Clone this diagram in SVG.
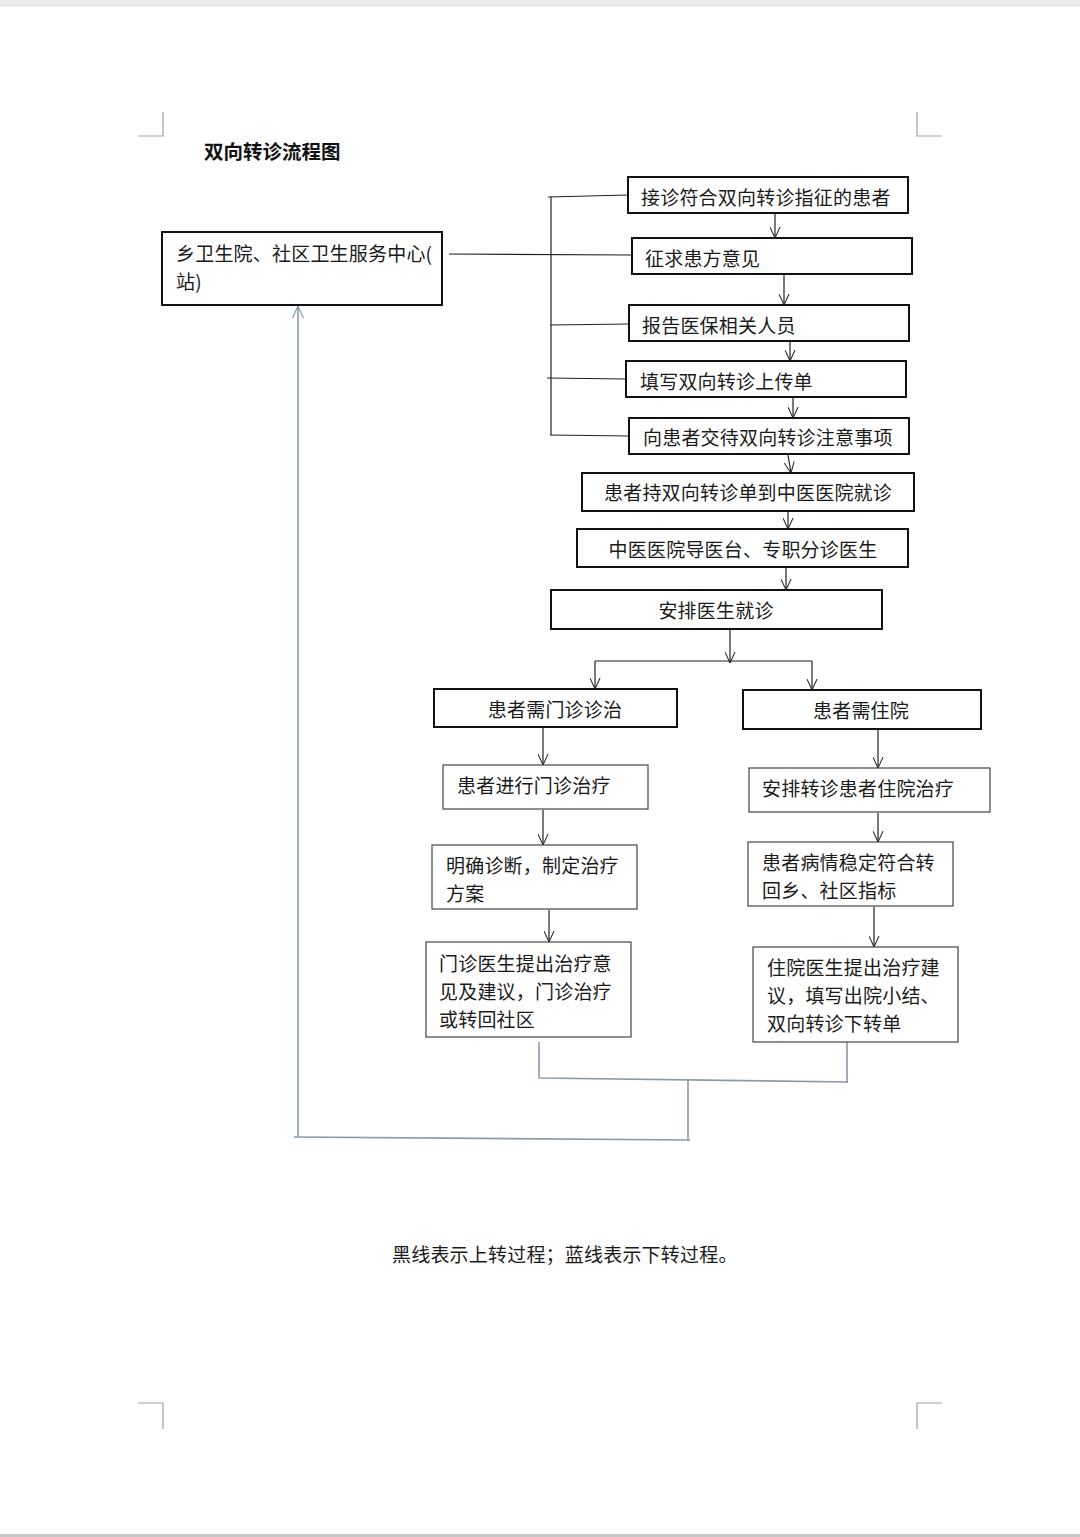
<svg xmlns="http://www.w3.org/2000/svg" width="1080" height="1537" viewBox="0 0 1080 1537">
<style>
.box{fill:#fff;stroke:#111;stroke-width:2}
.box2{fill:#fff;stroke:#444;stroke-width:1.2}
.t{font-family:"Noto Sans CJK SC","Noto Sans CJK TC",sans-serif;font-size:19px;letter-spacing:0.2px;fill:#1a1a1a}
.c{text-anchor:middle}
.k{fill:none;stroke:#222;stroke-width:1.2}
.b{fill:none;stroke:#8a9aab;stroke-width:1.6}
.corner{fill:none;stroke:#a0a0a0;stroke-width:1.2}
</style>
<defs>
<marker id="ak" viewBox="0 0 12 12" refX="12" refY="6" markerWidth="11" markerHeight="11" markerUnits="userSpaceOnUse" orient="auto">
<path d="M0,0.5 L12,6 L0,11.5" fill="none" stroke="#222" stroke-width="1.1"/>
</marker>
<marker id="ab" viewBox="0 0 12 12" refX="12" refY="6" markerWidth="12" markerHeight="12" markerUnits="userSpaceOnUse" orient="auto">
<path d="M0,0.5 L12,6 L0,11.5" fill="none" stroke="#8a9aab" stroke-width="1.2"/>
</marker>
</defs>
<rect x="0" y="0" width="1080" height="1537" fill="#fff"/>
<rect x="0" y="0" width="1080" height="7" fill="#ececec"/>
<rect x="0" y="1534" width="1080" height="3" fill="#c8c8c8"/>
<g id="corners">
<path class="corner" d="M163,112 V136 H138"/>
<path class="corner" d="M917,112 V136 H942"/>
<path class="corner" d="M138,1403 H163 V1429"/>
<path class="corner" d="M942,1403 H917 V1429"/>
</g>
<text x="204" y="159" font-family="'Noto Sans CJK SC',sans-serif" font-size="19.5" font-weight="bold" fill="#111">双向转诊流程图</text>

<g id="connectors">
<path class="k" d="M551,197 V435"/>
<path class="k" d="M548,197 L628,195"/>
<path class="k" d="M449,254 L632,255"/>
<path class="k" d="M550,325 L629,324"/>
<path class="k" d="M547,378 L626,379"/>
<path class="k" d="M550,435 L629,436"/>
<path class="k" d="M775,214 V238" marker-end="url(#ak)"/>
<path class="k" d="M784,275 V305" marker-end="url(#ak)"/>
<path class="k" d="M790,342 V361" marker-end="url(#ak)"/>
<path class="k" d="M793,398 V418" marker-end="url(#ak)"/>
<path class="k" d="M788,455 L791,473" marker-end="url(#ak)"/>
<path class="k" d="M788,512 V529" marker-end="url(#ak)"/>
<path class="k" d="M786,568 V590" marker-end="url(#ak)"/>
<path class="k" d="M730,630 V663" marker-end="url(#ak)"/>
<path class="k" d="M595,661 H812"/>
<path class="k" d="M595,661 V689" marker-end="url(#ak)"/>
<path class="k" d="M812,661 V690" marker-end="url(#ak)"/>
<path class="k" d="M543,728 V765" marker-end="url(#ak)"/>
<path class="k" d="M878,730 V768" marker-end="url(#ak)"/>
<path class="k" d="M543,810 V845" marker-end="url(#ak)"/>
<path class="k" d="M878,813 V842" marker-end="url(#ak)"/>
<path class="k" d="M549,910 V942" marker-end="url(#ak)"/>
<path class="k" d="M874,907 V947" marker-end="url(#ak)"/>
<path class="b" d="M539,1042 V1078 L848,1082"/>
<path class="b" d="M847,1042 V1083"/>
<path class="b" d="M688,1080 V1140"/>
<path class="b" d="M294,1137 L690,1140"/>
<path class="b" d="M298,1137 V306" marker-end="url(#ab)"/>
</g>

<g id="n0"><rect class="box" x="162" y="232" width="280" height="73"/>
<text class="t" x="176" y="261">乡卫生院、社区卫生服务中心(</text>
<text class="t" x="176" y="289">站)</text></g>
<g id="n1"><rect class="box" x="628" y="177" width="280" height="36"/><text class="t" x="641" y="205">接诊符合双向转诊指征的患者</text></g>
<g id="n2"><rect class="box" x="632" y="238" width="280" height="36"/><text class="t" x="645" y="266">征求患方意见</text></g>
<g id="n3"><rect class="box" x="629" y="305" width="280" height="36"/><text class="t" x="642" y="333">报告医保相关人员</text></g>
<g id="n4"><rect class="box" x="626" y="361" width="280" height="36"/><text class="t" x="640" y="389">填写双向转诊上传单</text></g>
<g id="n5"><rect class="box" x="629" y="418" width="280" height="36"/><text class="t" x="643" y="445">向患者交待双向转诊注意事项</text></g>
<g id="n6"><rect class="box" x="582" y="473" width="332" height="38"/><text class="t c" x="748" y="500">患者持双向转诊单到中医医院就诊</text></g>
<g id="n7"><rect class="box" x="577" y="529" width="331" height="38"/><text class="t c" x="743" y="557">中医医院导医台、专职分诊医生</text></g>
<g id="n8"><rect class="box" x="551" y="590" width="331" height="39"/><text class="t c" x="716" y="618">安排医生就诊</text></g>
<g id="n9"><rect class="box" x="434" y="689" width="243" height="38"/><text class="t c" x="555" y="717">患者需门诊诊治</text></g>
<g id="n10"><rect class="box" x="743" y="690" width="238" height="39"/><text class="t c" x="861" y="718">患者需住院</text></g>
<g id="n11"><rect class="box2" x="443" y="765" width="205" height="44"/><text class="t" x="457" y="793">患者进行门诊治疗</text></g>
<g id="n12"><rect class="box2" x="749" y="768" width="241" height="44"/><text class="t" x="762" y="796">安排转诊患者住院治疗</text></g>
<g id="n13"><rect class="box2" x="432" y="845" width="205" height="64"/>
<text class="t" x="446" y="873">明确诊断，制定治疗</text><text class="t" x="446" y="901">方案</text></g>
<g id="n14"><rect class="box2" x="748" y="842" width="205" height="64"/>
<text class="t" x="762" y="870">患者病情稳定符合转</text><text class="t" x="762" y="898">回乡、社区指标</text></g>
<g id="n15"><rect class="box2" x="426" y="942" width="205" height="95"/>
<text class="t" x="439" y="971">门诊医生提出治疗意</text><text class="t" x="439" y="999">见及建议，门诊治疗</text><text class="t" x="439" y="1027">或转回社区</text></g>
<g id="n16"><rect class="box2" x="753" y="947" width="205" height="95"/>
<text class="t" x="767" y="975">住院医生提出治疗建</text><text class="t" x="767" y="1003">议，填写出院小结、</text><text class="t" x="767" y="1031">双向转诊下转单</text></g>

<text class="t" x="392" y="1262">黑线表示上转过程；蓝线表示下转过程。</text>
</svg>
